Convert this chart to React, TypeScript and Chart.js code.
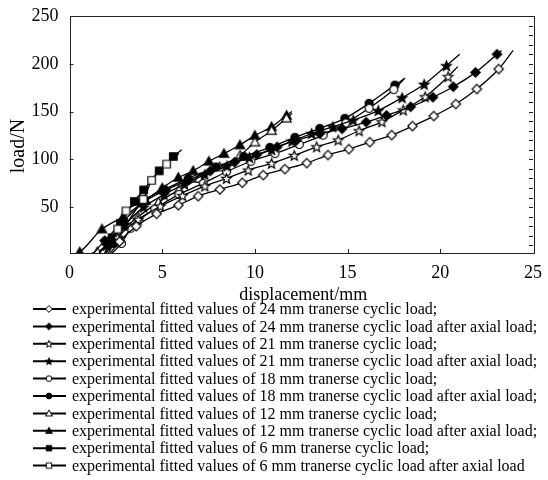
import React, { useEffect, useRef } from 'react';
import { Chart, registerables } from 'chart.js';

Chart.register(...registerables);

// ---------- data ----------
const legendLabels = [
  'experimental fitted values of 24 mm tranerse cyclic load;',
  'experimental fitted values of 24 mm tranerse cyclic load after axial load;',
  'experimental fitted values of 21 mm tranerse cyclic load;',
  'experimental fitted values of 21 mm tranerse cyclic load after axial load;',
  'experimental fitted values of 18 mm tranerse cyclic load;',
  'experimental fitted values of 18 mm tranerse cyclic load after axial load;',
  'experimental fitted values of 12 mm tranerse cyclic load;',
  'experimental fitted values of 12 mm tranerse cyclic load after axial load;',
  'experimental fitted values of 6 mm tranerse cyclic load;',
  'experimental fitted values of 6 mm tranerse cyclic load after axial load',
];

const xTickValues = [0, 5, 10, 15, 20, 25];
const yTickValues = [50, 100, 150, 200, 250];

// first and last entries of each series are the ends of the fitted curve (no marker)
const d24X = [2.2, 2.7, 3.6, 4.7, 5.87, 6.94, 8.11, 9.32, 10.45, 11.62, 12.8, 13.94, 15.07, 16.2, 17.38, 18.5, 19.65, 20.84, 21.97, 23.15, 23.93];
const d24Y = [2, 14, 30, 43, 52, 61.5, 68.5, 75.5, 83.5, 89.8, 96.1, 104.5, 110.7, 118, 125.4, 134.8, 145.3, 157.9, 173.6, 194.5, 214];

const d24aX = [1.3, 1.9, 2.9, 4.0, 5.2, 6.4, 7.6, 8.9, 10.1, 11.2, 12.25, 13.5, 14.7, 16.0, 17.1, 18.4, 19.6, 20.7, 21.9, 23.06, 23.3];
const d24aY = [2, 15, 35, 55, 68, 78, 88, 97, 105, 113, 120, 127, 132, 139, 146, 155, 165, 176, 191, 210, 214];

const d21X = [2.1, 2.6, 3.7, 4.9, 6.1, 7.3, 8.47, 9.64, 10.9, 12.12, 13.33, 14.49, 15.62, 16.85, 18.0, 19.18, 20.42, 20.94];
const d21Y = [2, 18, 37, 51, 62, 72, 80, 88.7, 95.8, 104.1, 113.1, 120.2, 129.9, 139.3, 151.6, 165.5, 186.5, 197];

const d21aX = [1.6, 2.0, 3.0, 4.0, 5.1, 6.2, 7.3, 8.5, 9.7, 10.9, 12.0, 13.06, 14.2, 15.3, 16.65, 17.94, 19.13, 20.33, 21.05];
const d21aY = [2, 10, 32, 50, 63, 74, 84, 93, 102, 110, 119, 127, 134, 141, 151, 164.5, 178.5, 198, 210];

const d18X = [2.3, 2.8, 3.3, 4.6, 5.9, 7.21, 8.47, 9.78, 11.08, 12.39, 13.68, 14.9, 16.16, 17.49, 18.0];
const d18Y = [2, 12, 28, 48, 63.3, 74.8, 87, 98, 106, 115.6, 125.4, 138, 153.4, 173, 183];

const d18aX = [1.9, 2.4, 3.0, 3.9, 5.1, 6.4, 7.9, 9.4, 10.81, 12.16, 13.5, 14.85, 16.16, 17.55, 18.1];
const d18aY = [2, 12, 30, 55, 68, 80, 92, 103, 112.5, 123, 132.4, 142.9, 158.6, 177.7, 185];

const d12X = [1.2, 1.5, 2.6, 3.7, 4.8, 5.9, 7.0, 8.1, 9.2, 10.0, 10.9, 11.7, 12.0];
const d12Y = [2, 3, 22, 40, 55, 68, 80, 92, 104, 118, 130, 143, 148];

const d12aX = [0.4, 0.55, 1.75, 2.9, 4.1, 5.0, 5.87, 6.67, 7.52, 8.33, 9.19, 10.0, 10.9, 11.71, 12.0];
const d12aY = [2, 3, 27, 40, 57, 70, 81, 88, 98, 106, 115, 125, 134, 146, 150];

const d6X = [1.9, 2.3, 2.75, 3.5, 4.0, 4.84, 5.6, 6.05];
const d6Y = [2, 18, 33, 56, 68, 88, 103, 110];

const d6aX = [2.0, 2.6, 3.05, 3.98, 4.43, 5.24, 5.9];
const d6aY = [2, 27, 46, 58, 78, 95, 106];

const seriesX = [d24X, d24aX, d21X, d21aX, d18X, d18aX, d12X, d12aX, d6X, d6aX];
const seriesY = [d24Y, d24aY, d21Y, d21aY, d18Y, d18aY, d12Y, d12aY, d6Y, d6aY];

// ---------- styles ----------
const seriesShape = ['diamond', 'diamond', 'star', 'star', 'circle', 'circle', 'triangle', 'triangle', 'square', 'square'];
const seriesFilled = [false, true, false, true, false, true, false, true, true, false];
const seriesOrder = [0, 0, 0, 0, 0, 0, 0, 0, 0, -1];

const SERIF = "'Liberation Serif', 'Times New Roman', serif";

function makeMarker(shape: string, filled: boolean, s: number, lw: number): HTMLCanvasElement {
  const size = Math.ceil(2 * s + 5);
  const c = document.createElement('canvas');
  c.width = size;
  c.height = size;
  const ctx = c.getContext('2d')!;
  const cx = size / 2;
  const cy = size / 2;
  ctx.beginPath();
  if (shape === 'diamond') {
    ctx.moveTo(cx, cy - s);
    ctx.lineTo(cx + s, cy);
    ctx.lineTo(cx, cy + s);
    ctx.lineTo(cx - s, cy);
    ctx.closePath();
  } else if (shape === 'circle') {
    ctx.arc(cx, cy, s * 0.85, 0, Math.PI * 2);
  } else if (shape === 'triangle') {
    ctx.moveTo(cx, cy - s);
    ctx.lineTo(cx + s, cy + s * 0.75);
    ctx.lineTo(cx - s, cy + s * 0.75);
    ctx.closePath();
  } else if (shape === 'square') {
    const h = s * 0.8;
    ctx.rect(cx - h, cy - h, 2 * h, 2 * h);
  } else if (shape === 'star') {
    for (let i = 0; i < 10; i++) {
      const r = i % 2 === 0 ? s * 1.1 : s * 0.47;
      const a = -Math.PI / 2 + (i * Math.PI) / 5;
      const px = cx + r * Math.cos(a);
      const py = cy + r * Math.sin(a) + s * 0.1;
      if (i === 0) ctx.moveTo(px, py);
      else ctx.lineTo(px, py);
    }
    ctx.closePath();
  }
  ctx.fillStyle = filled ? '#000' : '#fff';
  ctx.fill();
  ctx.lineWidth = lw;
  ctx.strokeStyle = '#000';
  ctx.stroke();
  return c;
}

const framePlugin = {
  id: 'framePlugin',
  afterDraw(chart: any) {
    const { ctx, chartArea } = chart;
    const { left, right, top, bottom } = chartArea;
    const xs = chart.scales.x;
    const ys = chart.scales.y;
    ctx.save();
    // frame
    ctx.strokeStyle = '#222';
    ctx.lineWidth = 1;
    ctx.strokeRect(Math.round(left) + 0.5, Math.round(top) + 0.5, Math.round(right - left), Math.round(bottom - top));
    // inner ticks
    ctx.beginPath();
    for (const v of [5, 10, 15, 20]) {
      const px = Math.round(xs.getPixelForValue(v)) + 0.5;
      ctx.moveTo(px, bottom);
      ctx.lineTo(px, bottom - 4);
    }
    for (const v of [50, 100, 150, 200]) {
      const py = Math.round(ys.getPixelForValue(v)) + 0.5;
      ctx.moveTo(left, py);
      ctx.lineTo(left + 4, py);
    }
    for (let v = 10; v < 250; v += 10) {
      const py = Math.round(ys.getPixelForValue(v)) + 0.5;
      ctx.moveTo(right, py);
      ctx.lineTo(right - 4, py);
    }
    ctx.stroke();

    // axis titles
    ctx.fillStyle = '#000';
    ctx.textAlign = 'center';
    ctx.textBaseline = 'middle';
    ctx.font = `18px ${SERIF}`;
    ctx.fillText('displacement/mm', (left + right) / 2 + 2, 295);
    ctx.save();
    ctx.translate(19, 146);
    ctx.rotate(-Math.PI / 2);
    ctx.font = `20px ${SERIF}`;
    ctx.fillText('load/N', 0, 0);
    ctx.restore();

    // legend
    const rowTop = 309;
    const rowH = 17.4;
    ctx.font = `16px ${SERIF}`;
    ctx.textAlign = 'left';
    for (let i = 0; i < legendLabels.length; i++) {
      const y = rowTop + i * rowH;
      ctx.beginPath();
      ctx.lineWidth = 2;
      ctx.strokeStyle = '#000';
      ctx.moveTo(33, y);
      ctx.lineTo(66, y);
      ctx.stroke();
      const m = makeMarker(seriesShape[i], seriesFilled[i], 3.4, 1);
      ctx.drawImage(m, 49 - m.width / 2, y - m.height / 2);
      ctx.fillText(legendLabels[i], 72, y + 1);
    }
    ctx.restore();
  },
};

export default function App() {
  const ref = useRef<HTMLCanvasElement | null>(null);
  useEffect(() => {
    if (!ref.current) return;
    const markers = seriesShape.map((sh, i) => makeMarker(sh, seriesFilled[i], 4.7, 1.2));
    const datasets = seriesX.map((xs, i) => ({
      label: legendLabels[i],
      data: xs.map((x, j) => ({ x, y: seriesY[i][j] })),
      order: seriesOrder[i],
      borderColor: '#000',
      borderWidth: 1.3,
      backgroundColor: '#fff',
      fill: false,
      cubicInterpolationMode: 'monotone' as const,
      pointStyle: markers[i],
      pointRadius: (ctx: any) => (ctx.dataIndex === 0 || ctx.dataIndex === xs.length - 1 ? 0 : 4),
      pointHoverRadius: 0,
    }));
    const tickFont = { family: SERIF, size: 18 };
    const chart = new Chart(ref.current, {
      type: 'line',
      data: { datasets },
      plugins: [framePlugin],
      options: {
        animation: false,
        responsive: false,
        events: [],
        layout: { padding: { left: 0, right: 15, top: 16, bottom: 172 } },
        plugins: { legend: { display: false }, tooltip: { enabled: false } },
        scales: {
          x: {
            type: 'linear',
            min: 0,
            max: 25,
            afterBuildTicks: (s: any) => {
              s.ticks = xTickValues.map((v) => ({ value: v }));
            },
            afterFit: (s: any) => {
              s.height = 55;
            },
            ticks: { font: tickFont, color: '#000', padding: 1, maxRotation: 0 },
            grid: { display: false },
            border: { display: false },
          },
          y: {
            type: 'linear',
            min: 2,
            max: 250,
            afterBuildTicks: (s: any) => {
              s.ticks = yTickValues.map((v) => ({ value: v }));
            },
            afterFit: (s: any) => {
              s.width = 69.5;
            },
            ticks: { font: tickFont, color: '#000', padding: 3 },
            grid: { display: false },
            border: { display: false },
          },
        },
      },
    });
    return () => chart.destroy();
  }, []);
  return (
    <div style={{ position: 'absolute', left: 0, top: 0, width: 548, height: 480, background: '#fff' }}>
      <canvas ref={ref} width={548} height={480} style={{ display: 'block' }} />
    </div>
  );
}
